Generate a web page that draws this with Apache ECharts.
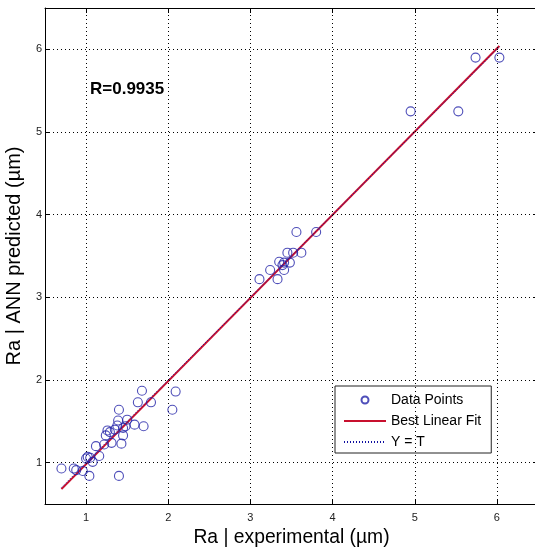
<!DOCTYPE html>
<html>
<head>
<meta charset="utf-8">
<script src="https://cdn.jsdelivr.net/npm/echarts@6/dist/echarts.min.js"></script>
<style>html,body{margin:0;padding:0;background:#fff}#c{width:535px;height:549px}</style>
</head>
<body>
<div id="c"></div>
<script>
// Data
var expX = [1.68,2.09,1.63,1.79,2.05,1.40,1.39,1.50,1.38,1.48,1.59,1.70,1.26,1.29,1.35,1.45,1.24,1.31,1.43,1.45,1.12,1.22,1.16,1.02,1.05,1.00,1.08,0.70,0.85,0.88,0.96,1.04,1.40,
            3.56,3.80,3.45,3.52,3.62,3.35,3.41,3.48,3.39,3.24,3.41,3.11,3.33,
            5.74,6.03,4.95,5.53];
var predY = [1.87,1.86,1.73,1.73,1.64,1.64,1.51,1.52,1.45,1.44,1.46,1.44,1.39,1.37,1.40,1.42,1.33,1.24,1.23,1.33,1.20,1.22,1.08,1.07,1.06,1.05,1.01,0.93,0.93,0.91,0.90,0.84,0.84,
             3.79,3.79,3.54,3.54,3.54,3.43,3.42,3.42,3.39,3.33,3.33,3.22,3.22,
             5.90,5.90,5.25,5.25];
var fitX = [0.70, 6.03];
var fitY = [0.68, 6.04];
var ytX = [0.70, 6.03];
var ytY = [0.70, 6.03];
var tickValues = [1, 2, 3, 4, 5, 6];
var rText = 'R=0.9935';

function zip(a, b) { return a.map(function (v, i) { return [v, b[i]]; }); }

var gridLines = tickValues.map(function (v) { return { xAxis: v }; })
  .concat(tickValues.map(function (v) { return { yAxis: v }; }));

var chart = echarts.init(document.getElementById('c'), null, { renderer: 'canvas' });
var font = '"Liberation Sans", Arial, sans-serif';
var axisCommon = {
  min: 0.5, max: 6.5,
  axisLine: { show: true, onZero: false, lineStyle: { color: '#000', width: 1 } },
  axisTick: { show: true, inside: true, length: 5, customValues: tickValues, lineStyle: { color: '#000' } },
  splitLine: { show: false }
};
var hiddenMarker = { color: 'rgba(0,0,0,0)', borderWidth: 0, opacity: 0 };
chart.setOption({
  animation: false,
  backgroundColor: '#fff',
  grid: { left: 45, right: -3, top: 8, bottom: 45, containLabel: false, outerBoundsMode: 'none' },
  xAxis: [
    Object.assign({}, axisCommon, {
      type: 'value', position: 'bottom',
      name: 'Ra | experimental (µm)', nameLocation: 'middle', nameGap: 21,
      nameTextStyle: { fontFamily: font, fontSize: 19.3, color: '#000' },
      axisLabel: { customValues: tickValues, margin: 8, fontFamily: font, fontSize: 11, color: '#222' }
    }),
    Object.assign({}, axisCommon, {
      type: 'value', position: 'top', axisLabel: { show: false }
    })
  ],
  yAxis: [
    Object.assign({}, axisCommon, {
      type: 'value', position: 'left',
      name: 'Ra | ANN predicted (µm)', nameLocation: 'middle', nameGap: 17,
      nameTextStyle: { fontFamily: font, fontSize: 20, color: '#000' },
      axisLabel: { customValues: tickValues, margin: 3, fontFamily: font, fontSize: 11, color: '#222' }
    }),
    Object.assign({}, axisCommon, {
      type: 'value', position: 'right', axisLabel: { show: false }
    })
  ],
  legend: {
    orient: 'vertical', left: 335, top: 386,
    width: 160,
    padding: [7, 10, 4, 8],
    itemWidth: 42, itemHeight: 7, itemGap: 7,
    backgroundColor: '#fff', borderColor: '#222', borderWidth: 1,
    textStyle: { fontFamily: font, fontSize: 14, color: '#000' },
    data: [
      { name: 'Data Points' },
      { name: 'Best Linear Fit', itemStyle: hiddenMarker },
      { name: 'Y = T', itemStyle: hiddenMarker }
    ]
  },
  graphic: [
    { type: 'text', left: 90, top: 81, style: { text: rText, font: 'bold 17px ' + font, fill: '#000' } }
  ],
  series: [
    {
      name: 'grid', type: 'line', data: [], silent: true, z: 1,
      markLine: {
        silent: true, symbol: ['none', 'none'], animation: false,
        label: { show: false },
        lineStyle: { color: '#000', width: 1, type: [1, 3] },
        data: gridLines
      }
    },
    {
      name: 'Best Linear Fit', type: 'line', data: zip(fitX, fitY), symbol: 'none', z: 3,
      lineStyle: { color: '#c8102e', width: 2 }, itemStyle: { color: '#c8102e' }
    },
    {
      name: 'Y = T', type: 'line', data: zip(ytX, ytY), symbol: 'none', z: 4,
      lineStyle: { color: '#1010a0', width: 1, type: [1, 2] }, itemStyle: { color: '#1010a0' }
    },
    {
      name: 'Data Points', type: 'scatter', data: zip(expX, predY), symbol: 'circle', symbolSize: 9, z: 5,
      itemStyle: { color: 'rgba(255,255,255,0)', borderColor: '#2222a8', borderWidth: 1.1 }
    }
  ]
});
</script>
</body>
</html>
